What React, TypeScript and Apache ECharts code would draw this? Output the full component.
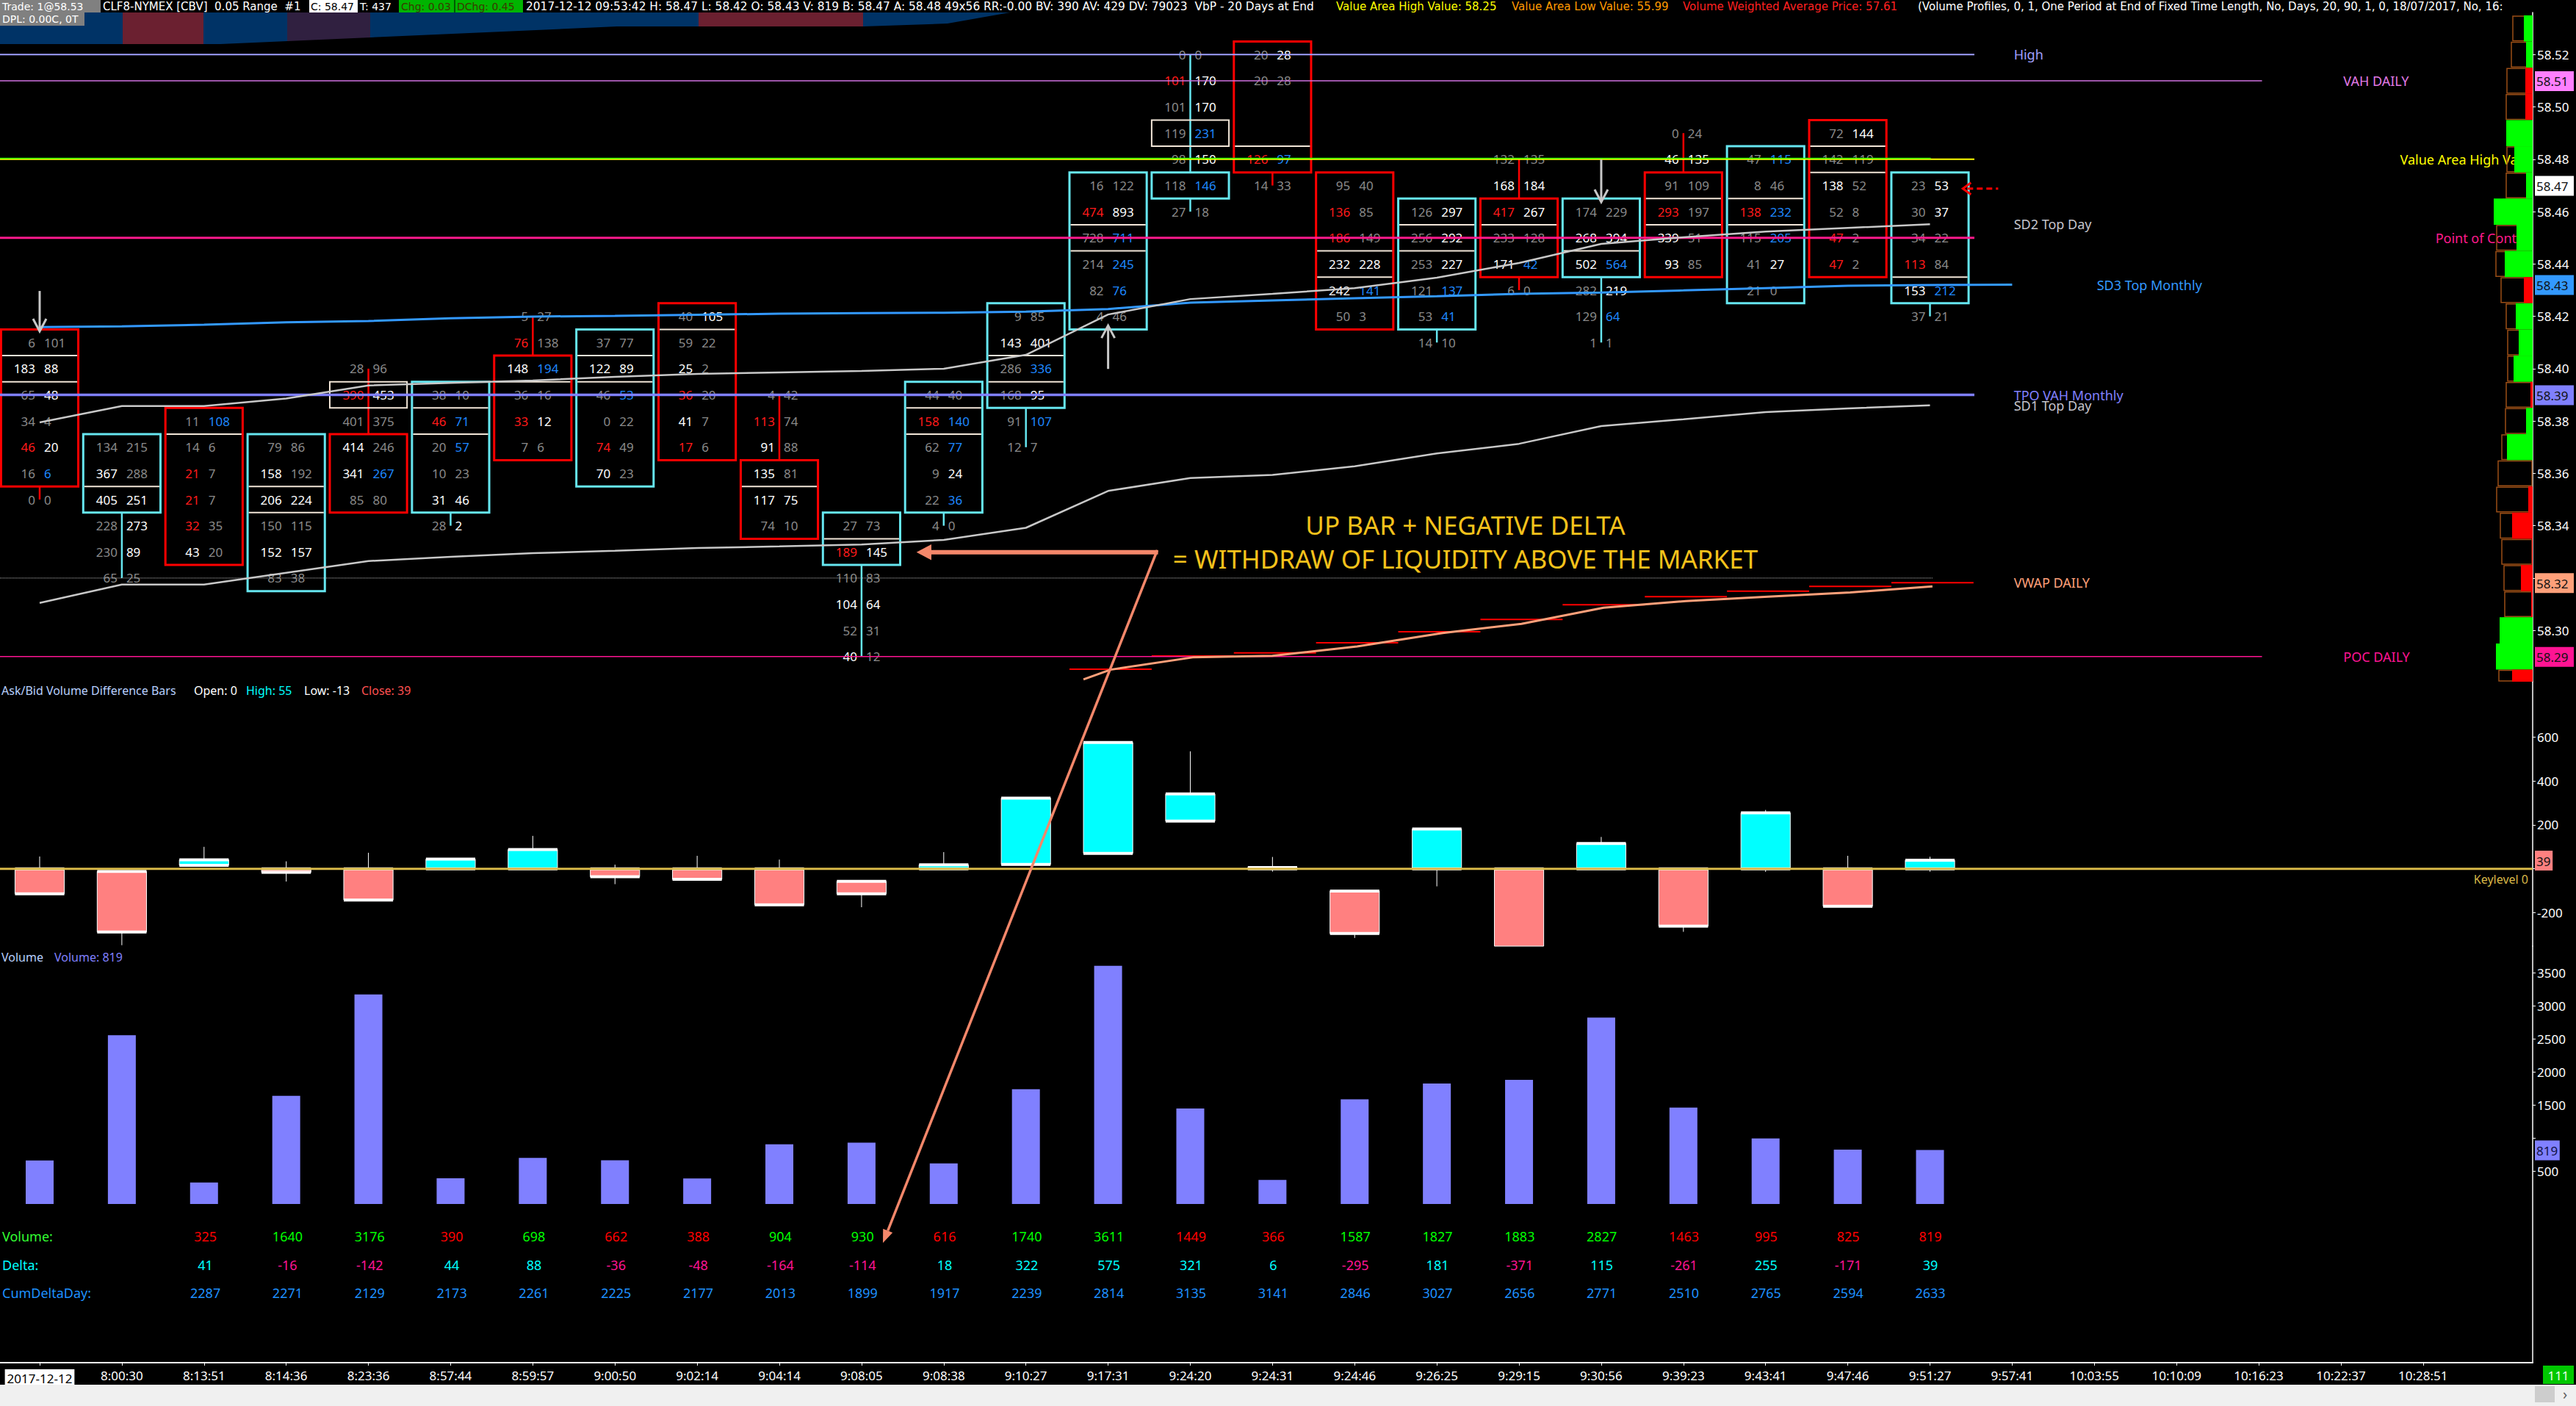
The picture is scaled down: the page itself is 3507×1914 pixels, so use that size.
import React, { useEffect, useRef } from "react";
import * as echarts from "echarts";

const FONT = '"Noto Sans", "Open Sans", "DejaVu Sans", sans-serif';
const HFONT = '"DejaVu Sans", "Noto Sans", sans-serif';

// ---------------- categories (bar time stamps) ----------------
const timeLabels = ["2017-12-12","8:00:30","8:13:51","8:14:36","8:23:36","8:57:44","8:59:57","9:00:50","9:02:14","9:04:14","9:08:05","9:08:38","9:10:27","9:17:31","9:24:20","9:24:31","9:24:46","9:26:25","9:29:15","9:30:56","9:39:23","9:43:41","9:47:46","9:51:27","9:57:41","10:03:55","10:10:09","10:16:23","10:22:37","10:28:51"];

// ---------------- footprint bars ----------------
const fpOpen = [58.41,58.35,58.38,58.32,58.37,58.35,58.40,58.36,58.42,58.36,58.33,58.35,58.39,58.42,58.47,58.52,58.47,58.42,58.46,58.44,58.47,58.43,58.49,58.43];
const fpClose = [58.36,58.37,58.33,58.37,58.35,58.39,58.37,58.41,58.37,58.34,58.34,58.39,58.42,58.47,58.47,58.48,58.42,58.46,58.44,58.46,58.44,58.48,58.44,58.47];
const fpHigh = [58.41,58.37,58.38,58.37,58.40,58.39,58.42,58.41,58.42,58.39,58.34,58.39,58.42,58.47,58.52,58.52,58.47,58.46,58.48,58.46,58.49,58.48,58.49,58.47];
const fpBid: (number | null)[][] = [
  [6,183,65,34,46,16,0],[134,367,405,228,230,65],[11,14,21,21,32,43],[79,158,206,150,152,83],
  [28,390,401,414,341,85],[38,46,20,10,31,28],[5,76,148,36,33,7],[37,122,46,0,74,70],
  [40,59,25,36,41,17],[4,113,91,135,117,74],[27,189,110,104,52,40],[44,158,62,9,22,4],
  [9,143,286,168,91,12],[16,474,728,214,82,4],[0,101,101,119,98,118,27],[20,20,null,null,126,14],
  [95,136,186,232,242,50],[126,256,253,121,53,14],[132,168,417,233,171,6],[174,268,502,282,129,1],
  [0,46,91,293,339,93],[47,8,138,115,41,21],[72,142,138,52,47,47],[23,30,34,113,153,37],
];
const fpAsk: (number | null)[][] = [
  [101,88,48,4,20,6,0],[215,288,251,273,89,25],[108,6,7,7,35,20],[86,192,224,115,157,38],
  [96,453,375,246,267,80],[10,71,57,23,46,2],[27,138,194,16,12,6],[77,89,53,22,49,23],
  [105,22,2,20,7,6],[42,74,88,81,75,10],[73,145,83,64,31,12],[40,140,77,24,36,0],
  [85,401,336,95,107,7],[122,893,711,245,76,46],[0,170,170,231,150,146,18],[28,28,null,null,97,33],
  [40,85,149,228,141,3],[297,292,227,137,41,10],[135,184,267,128,42,0],[229,394,564,219,64,1],
  [24,135,109,197,51,85],[115,46,232,205,27,0],[144,119,52,8,2,2],[53,37,22,84,212,21],
];
// imbalance / volume flags per cell: g normal, w high volume, r bid imbalance, b ask imbalance
const fpFlags = [
  ["gg","ww","gw","gg","rw","gb","gg"],["gg","wg","ww","gw","gw","gg"],["gb","gg","rg","rg","rg","wg"],["gg","wg","ww","gg","ww","gg"],
  ["gg","rw","gg","wg","wb","gg"],["gg","rb","gb","gg","ww","gw"],["gg","rg","wb","gg","rw","gg"],["gg","ww","gb","gg","rg","wg"],
  ["gw","gg","wg","rg","wg","rg"],["gg","rg","wg","wg","ww","gg"],["gg","rw","gg","ww","gg","wg"],["gg","rb","gb","gw","gb","gg"],
  ["gg","ww","gb","gw","gb","gg"],["gg","rw","gb","gb","gb","gg"],["gg","rw","gw","gb","gw","gb","gg"],["gw","gg","","","rb","gg"],
  ["gg","rg","rg","ww","wb","gg"],["gw","gw","gw","gb","gb","gg"],["gg","ww","rw","gg","wb","gg"],["gg","ww","wb","gw","gb","gg"],
  ["gg","ww","gg","rg","wg","wg"],["gb","gg","rb","gb","gw","gg"],["gw","gg","wg","gg","rg","rg"],["gw","gw","gg","rg","wb","gg"],
];

// ---------------- study lines ----------------
const sd2TopDay = [58.3795,58.3857,58.3857,58.3886,58.3936,58.3946,58.3955,58.3969,58.398,58.3986,58.3991,58.4,58.4053,58.4207,58.4266,58.4286,58.4308,58.4348,58.4404,58.4477,58.4502,58.4524,58.4538,58.4552];
const sd1TopDay = [58.3105,58.3175,58.3175,58.322,58.3265,58.3281,58.3295,58.3304,58.3315,58.3321,58.3328,58.3346,58.3392,58.3533,58.3582,58.3594,58.3627,58.3676,58.3713,58.3781,58.3807,58.3834,58.3848,58.386];
const sd3TopMonthly = [58.4159,58.4162,58.4168,58.4177,58.4182,58.4193,58.4199,58.4202,58.4206,58.421,58.4212,58.4214,58.4218,58.4228,58.4252,58.4261,58.4269,58.4277,58.4286,58.4291,58.4299,58.4308,58.4317,58.432,58.4321];
const vwapCurveX = [12.7,13.03,14.03,15,16.03,17.07,18.03,19.03,20.03,21.03,22.03,23.03];
const vwapCurveY = [58.2813,58.285,58.2897,58.2903,58.2939,58.299,58.3025,58.3087,58.3112,58.3129,58.3145,58.3168];
const vwapStepIdx = [13,14,15,16,17,18,19,20,21,22,23];
const vwapStepVal = [58.2852,58.2902,58.2914,58.2953,58.2995,58.3042,58.3098,58.3129,58.315,58.3168,58.3182];

const levelHigh = 58.52;
const levelVahDaily = 58.51;
const levelValueAreaHigh = 58.48;
const levelPointOfControl = 58.45;
const levelTpoVahMonthly = 58.39;
const levelPocDaily = 58.29;
const levelDotted = 58.32;
const lastPrice = 58.47;
const endNear = 23.54;
const endFar = 27.04;
const endCurve = 23.03;

const refLabelText = ["High","SD2 Top Day","SD3 Top Monthly","TPO VAH Monthly","SD1 Top Day","VWAP DAILY","VAH DAILY","POC DAILY","Value Area High Val","Point of Contr"];
const refLabelAt = [24.02,24.02,25.03,24.02,24.02,24.02,28.03,28.03,28.72,29.15];
const refLabelLevel = [58.52,58.4552,58.4321,58.39,58.386,58.3182,58.51,58.29,58.48,58.45];

const arrowIdx = [0,13,19];
const arrowFrom = [58.4297,58.3999,58.4799];
const arrowTo = [58.4143,58.4165,58.4637];

// ---------------- volume profile (right) ----------------
const profilePrice = [58.53,58.52,58.51,58.50,58.49,58.48,58.47,58.46,58.45,58.44,58.43,58.42,58.41,58.40,58.39,58.38,58.37,58.36,58.35,58.34,58.33,58.32,58.31,58.30,58.29,58.28];
const profileTotal = [27,29,35,36,30,35,36,40,49,50,43,36,34,34,36,37,42,47,49,44,42,39,38,40,46,46];
const profileDelta = [12,9,-10,-10,36,25,9,53,22,38,-12,23,19,26,-3,9,35,0,-6,-28,-1,-16,-2,45,50,-28];

const priceTagLevel = [58.51,58.47,58.4321,58.39,58.3182,58.29];
const priceTicks = [58.30,58.32,58.34,58.36,58.38,58.40,58.42,58.44,58.46,58.48,58.50,58.52];
const priceLabels = [58.30,58.34,58.36,58.38,58.40,58.42,58.44,58.46,58.48,58.50,58.52];

// ---------------- ask/bid volume difference bars ----------------
const deltaOpen  = [0,-12,16,0,0,0,0,0,0,0,-57,0,20,70,217,0,-101,0,0,0,0,0,0,0];
const deltaClose = [-114,-288,41,-16,-142,44,88,-36,-48,-164,-114,18,322,575,341,6,-295,181,-371,115,-261,255,-171,39];
const deltaHigh  = [56,-12,100,34,73,46,150,19,59,42,-57,76,322,575,535,54,-101,181,0,145,0,268,59,55];
const deltaLow   = [-114,-348,16,-58,-142,0,0,-70,-48,-164,-175,0,20,70,217,-13,-315,-80,-371,0,-287,-14,-171,-13];
const deltaTicks = [-200,0,200,400,600];
const deltaLabels = [-200,200,400,600];

// ---------------- volume ----------------
const volumes = [660,2560,325,1640,3176,390,698,662,388,904,930,616,1740,3611,1449,366,1587,1827,1883,2827,1463,995,825,819];
const volumeTicks = [500,1000,1500,2000,2500,3000,3500];
const volumeLabels = [500,1500,2000,2500,3000,3500];

// ---------------- data rows ----------------
const rowNames = ["Volume:","Delta:","CumDeltaDay:"];
const rowStart = 2;
const rowDelta = [41,-16,-142,44,88,-36,-48,-164,-114,18,322,575,321,6,-295,181,-371,115,-261,255,-171,39];
const rowCumDelta = [2287,2271,2129,2173,2261,2225,2177,2013,1899,1917,2239,2814,3135,3141,2846,3027,2656,2771,2510,2765,2594,2633];

// ---------------- layout constants ----------------
const X_MIN = -0.4826, X_MAX = 30.333;
const P_MIN = 58.2804, P_MAX = 58.5361;
const D_MIN = -352.3, D_MAX = 852.1;
const V_MIN = -2405, V_MAX = 3909;

const CYAN = "#66e6f0";
const RED = "#ff0000";
const NUM_COL: Record<string, string> = { g: "#8a8a8a", w: "#ffffff", r: "#ff1a1a", b: "#1e88ff" };

function renderFootprint(params: any, api: any) {
  const i = api.value(0);
  const open = api.value(1), close = api.value(2), high = api.value(3);
  const bids = fpBid[i], asks = fpAsk[i], flags = fpFlags[i];
  const n = bids.length;
  const up = close >= open;
  const col = up ? CYAN : RED;
  const cx = api.coord([i, high])[0];
  const rowH = api.size([0, 0.01])[1];
  const bw = api.size([1, 0])[0] * 0.94;
  const yOf = (p: number) => api.coord([i, p])[1];
  const bTop = Math.max(open, close), bBot = Math.min(open, close);
  const yBT = yOf(bTop) - rowH / 2, yBB = yOf(bBot) + rowH / 2;
  const low = high - (n - 1) * 0.01;
  const yH = yOf(high), yL = yOf(low);
  const ch: any[] = [];
  if (yH < yBT - 1) ch.push({ type: "line", shape: { x1: cx, y1: yH, x2: cx, y2: yBT }, style: { stroke: col, lineWidth: 2.5 } });
  if (yL > yBB + 1) ch.push({ type: "line", shape: { x1: cx, y1: yBB, x2: cx, y2: yL }, style: { stroke: col, lineWidth: 2.5 } });
  ch.push({ type: "rect", shape: { x: cx - bw / 2, y: yBT, width: bw, height: yBB - yBT }, style: { fill: "none", stroke: col, lineWidth: 3 } });
  let k = 0, best = -1;
  for (let j = 0; j < n; j++) {
    const b = bids[j], a = asks[j];
    if (b == null || a == null) continue;
    if (b + a > best) { best = b + a; k = j; }
  }
  const pk = high - k * 0.01;
  const yk = yOf(pk);
  const inside = pk <= bTop + 1e-6 && pk >= bBot - 1e-6;
  const DIV = "#f2e6d8";
  if (inside) {
    const t = yk - rowH / 2, b = yk + rowH / 2;
    if (t > yBT + 3) ch.push({ type: "line", shape: { x1: cx - bw / 2 + 1.5, y1: t, x2: cx + bw / 2 - 1.5, y2: t }, style: { stroke: DIV, lineWidth: 2 } });
    if (b < yBB - 3) ch.push({ type: "line", shape: { x1: cx - bw / 2 + 1.5, y1: b, x2: cx + bw / 2 - 1.5, y2: b }, style: { stroke: DIV, lineWidth: 2 } });
  } else {
    ch.push({ type: "rect", shape: { x: cx - bw / 2, y: yk - rowH / 2, width: bw, height: rowH }, style: { fill: "none", stroke: DIV, lineWidth: 2 } });
  }
  for (let j = 0; j < n; j++) {
    const b = bids[j], a = asks[j];
    if (b == null || a == null) continue;
    const y = yOf(high - j * 0.01);
    const f = flags[j] || "gg";
    ch.push({ type: "text", x: cx - 6, y, style: { text: String(b), fill: NUM_COL[f[0]], fontSize: 17, fontFamily: FONT, align: "right", verticalAlign: "middle" } });
    ch.push({ type: "text", x: cx + 6, y, style: { text: String(a), fill: NUM_COL[f[1]], fontSize: 17, fontFamily: FONT, align: "left", verticalAlign: "middle" } });
  }
  return { type: "group", children: ch };
}

function renderDelta(params: any, api: any) {
  const i = api.value(0);
  const o = api.value(1), c = api.value(2), h = api.value(3), l = api.value(4);
  const cs = params.coordSys;
  const top = cs.y, bot = cs.y + cs.height;
  const clamp = (y: number) => Math.max(top, Math.min(bot, y));
  const cx = api.coord([i, 0])[0];
  const w = api.size([1, 0])[0] * 0.6;
  const yO = api.coord([i, o])[1], yC = api.coord([i, c])[1];
  const yH = clamp(api.coord([i, h])[1]), yL = clamp(api.coord([i, l])[1]);
  const y1 = clamp(Math.min(yO, yC)), y2 = clamp(Math.max(yO, yC));
  const ch: any[] = [];
  ch.push({ type: "line", shape: { x1: cx, y1: yH, x2: cx, y2: yL }, style: { stroke: "#ffffff", lineWidth: 1 } });
  ch.push({ type: "rect", shape: { x: cx - w / 2, y: y1, width: w, height: Math.max(1, y2 - y1) }, style: { fill: c >= o ? "#00ffff" : "#ff8080", stroke: "#ffffff", lineWidth: 1 } });
  [yO, yC].forEach((y) => {
    if (y > top && y < bot) ch.push({ type: "rect", shape: { x: cx - w / 2, y: y - 2, width: w, height: 4 }, style: { fill: "#ffffff" } });
  });
  return { type: "group", children: ch };
}

function renderProfile(params: any, api: any) {
  const tot = api.value(0), p = api.value(1), del = api.value(2);
  const cs = params.coordSys;
  const yT = Math.max(cs.y, api.coord([0, p + 0.005])[1]);
  const yB = Math.min(cs.y + cs.height, api.coord([0, p - 0.005])[1]);
  const xR = api.coord([0, p])[0];
  const xT = api.coord([tot, p])[0];
  const xD = api.coord([Math.abs(del), p])[0];
  const ch: any[] = [];
  ch.push({ type: "rect", shape: { x: xT, y: yT + 1, width: xR - xT - 1, height: yB - yT - 2 }, style: { fill: "none", stroke: "#9a4e16", lineWidth: 1.5 } });
  if (del !== 0) ch.push({ type: "rect", shape: { x: xD, y: yT, width: xR - xD, height: yB - yT }, style: { fill: del > 0 ? "#00ff00" : "#ff0000" } });
  return { type: "group", children: ch };
}

function makeTagRenderer(texts: string[], colors: string[], textColor: string) {
  return (params: any, api: any) => {
    const v = api.value(1);
    const y = api.coord([0, v])[1];
    const cs = params.coordSys;
    const x0 = cs.x + cs.width + 3;
    const txt = texts[params.dataIndex];
    const w = txt.length * 9.6 + 5;
    return {
      type: "group",
      children: [
        { type: "rect", shape: { x: x0, y: y - 13, width: w, height: 27 }, style: { fill: colors[params.dataIndex] } },
        { type: "text", x: x0 + 2, y: y + 1, style: { text: txt, fill: textColor, fontSize: 17, fontFamily: FONT, align: "left", verticalAlign: "middle" } },
      ],
    };
  };
}

function hline(level: number, end: number, color: string, width: number, type: string = "solid", z = 4) {
  return {
    type: "line", xAxisIndex: 0, yAxisIndex: 0, silent: true, symbol: "none", z,
    data: [[X_MIN, level], [end, level]],
    lineStyle: { color, width, type },
  };
}

function buildOption() {
  const fpData = fpOpen.map((o, i) => [i, o, fpClose[i], fpHigh[i]]);
  const deltaData = deltaOpen.map((o, i) => [i, o, deltaClose[i], deltaHigh[i], deltaLow[i]]);
  const refColors = ["#a0a0ff", "#c4c4cc", "#3399ff", "#8080ff", "#c4c4cc", "#ffa07a", "#e07ae6", "#ff1493", "#ffff00", "#ff1a8c"];
  const tagColors = ["#ff80ff", "#ffffff", "#3399ff", "#8080ff", "#ffa07a", "#ff1493"];

  const rowItems: { i: number; r: number; t: string; c: string }[] = [];
  for (let j = rowStart; j < volumes.length; j++) {
    rowItems.push({ i: j, r: 0, t: String(volumes[j]), c: volumes[j] > volumes[j - 1] ? "#00ff00" : "#ff0000" });
    const d = rowDelta[j - rowStart];
    rowItems.push({ i: j, r: 1, t: String(d), c: d >= 0 ? "#00ffff" : "#ff1493" });
    rowItems.push({ i: j, r: 2, t: String(rowCumDelta[j - rowStart]), c: "#1e90ff" });
  }

  const idxTicks = timeLabels.map((_, i) => i);
  const xBase = (g: number) => ({ type: "value", gridIndex: g, min: X_MIN, max: X_MAX, show: false, axisLine: { onZero: false } });

  // decorative header band
  const bandBottom = (x: number) =>
    x <= 300 ? 60 : x <= 840 ? 60 - ((x - 300) * 24) / 540 : x <= 1175 ? 36 : x <= 1290 ? 36 - ((x - 1175) * 4) / 115 : Math.max(17, 32 - ((x - 1290) * 15) / 85);
  const bandPoly = (x0: number, x1: number) => {
    const pts: number[][] = [[x0, 17], [x1, 17]];
    const bps = [300, 840, 1175, 1290].filter((b) => b > x0 && b < x1).reverse();
    [x1, ...bps, x0].forEach((x) => pts.push([x, bandBottom(x)]));
    return pts;
  };
  const bands: [number, number, string][] = [[0,167,"#003366"],[167,277,"#6b2030"],[277,391,"#003366"],[391,504,"#302040"],[504,951,"#003366"],[951,1175,"#6b2030"],[1175,1375,"#003366"]];

  const txt = (text: string, x: number, y: number, fill: string, size = 16, align = "left", z = 50, family = FONT) => ({
    type: "text", x, y, z, silent: true,
    style: { text, fill, fontSize: size, lineHeight: Math.ceil(size) + 1, fontFamily: family, align, verticalAlign: "middle" },
  });
  const htxt = (text: string, x: number, fill: string, size = 15) => txt(text, x, 9, fill, size, "left", 50, HFONT);
  const box = (x: number, y: number, w: number, h: number, fill: string, z = 49) => ({ type: "rect", z, silent: true, shape: { x, y, width: w, height: h }, style: { fill } });

  const graphic: any[] = [
    ...bands.map(([a, b, c]) => ({ type: "polygon", z: 1, silent: true, shape: { points: bandPoly(a, b) }, style: { fill: c } })),
    box(0, 0, 137, 17, "#808080"),
    htxt("Trade: 1@58.53", 3, "#ffffff", 14),
    htxt("CLF8-NYMEX [CBV]  0.05 Range  #1", 140, "#ffffff"),
    box(421, 0, 66, 17, "#ffffff"),
    htxt("C: 58.47", 423, "#000000", 14),
    htxt("T: 437", 490, "#ffffff", 14),
    box(543, 0, 169, 17, "#00b400"),
    { type: "line", z: 50, silent: true, shape: { x1: 619, y1: 0, x2: 619, y2: 17 }, style: { stroke: "#000", lineWidth: 1 } },
    htxt("Chg: 0.03", 546, "#3a3a00", 14),
    htxt("DChg: 0.45", 622, "#3a3a00", 14),
    {
      type: "text", x: 716, y: 9, z: 50, silent: true,
      style: { text: "2017-12-12 09:53:42 H: 58.47 L: 58.42 O: 58.43 V: 819 B: 58.47 A: 58.48 49x56 RR:-0.00 BV: 390 AV: 429 DV: 79023  VbP - 20 Days at End", fill: "#ffffff", fontSize: 15.4, lineHeight: 17, fontFamily: HFONT, verticalAlign: "middle", width: 1098, overflow: "truncate", ellipsis: "" },
    },
    htxt("Value Area High Value: 58.25", 1819, "#ffff00"),
    htxt("Value Area Low Value: 55.99", 2058, "#ff9900"),
    htxt("Volume Weighted Average Price: 57.61", 2291, "#ff2020"),
    { type: "text", x: 2611, y: 9, z: 50, silent: true, style: { text: "(Volume Profiles, 0, 1, One Period at End of Fixed Time Length, No, Days, 20, 90, 1, 0, 18/07/2017, No, 16:", fill: "#ffffff", fontSize: 15, lineHeight: 16, fontFamily: HFONT, verticalAlign: "middle", width: 835, overflow: "truncate", ellipsis: "" } },
    box(0, 17, 115, 18, "#808080"),
    txt("DPL: 0.00C, 0T", 3, 26, "#ffffff", 14, "left", 50, HFONT),
    // panel titles
    txt("Ask/Bid Volume Difference Bars", 2, 940, "#b8d0ff"),
    txt("Open: 0", 264, 940, "#ffffff"),
    txt("High: 55", 335, 940, "#00ffff"),
    txt("Low: -13", 414, 940, "#ffffff"),
    txt("Close: 39", 492, 940, "#ff5050"),
    txt("Keylevel 0", 3442, 1197, "#d8b848", 16, "right"),
    txt("Volume", 2, 1303, "#b8d0ff"),
    txt("Volume: 819", 74, 1303, "#8080ff"),
    // annotation
    txt("UP BAR + NEGATIVE DELTA", 1995, 714, "#f5c21b", 35, "center", 60),
    txt("= WITHDRAW OF LIQUIDITY ABOVE THE MARKET", 1995, 760, "#f5c21b", 35, "center", 60),
    { type: "polyline", z: 60, silent: true, shape: { points: [[1262, 751.7], [1576.6, 751.7]] }, style: { stroke: "#f4876a", lineWidth: 6, fill: "none" } },
    { type: "polyline", z: 60, silent: true, shape: { points: [[1575.5, 749], [1208.7, 1675.3]] }, style: { stroke: "#f4876a", lineWidth: 3.5, fill: "none" } },
    { type: "polygon", z: 60, silent: true, shape: { points: [[1247.7, 751.7], [1268, 741], [1268, 762.4]] }, style: { fill: "#f4876a" } },
    { type: "polygon", z: 60, silent: true, shape: { points: [[1202, 1692], [1215.2, 1677.9], [1202.2, 1672.7]] }, style: { fill: "#f4876a" } },
    // bottom chrome
    box(0, 1885, 3507, 29, "#f0f0f0", 70),
    box(3451, 1887, 27, 22, "#cdcdcd", 71),
    txt("\u203A", 3492, 1897, "#606060", 20, "center", 71),
    box(3462, 1859, 42, 25, "#00c800", 71),
    txt("111", 3483, 1872, "#e8ffe8", 17, "center", 72),
  ];

  const series: any[] = [
    // footprint
    { type: "custom", xAxisIndex: 0, yAxisIndex: 0, z: 2, silent: true, data: fpData, renderItem: renderFootprint },
    // horizontal references
    hline(levelHigh, endNear, "#a0a0ff", 2),
    hline(levelVahDaily, endFar, "#d070e0", 1.5),
    hline(levelValueAreaHigh, endNear, "#ffff00", 2),
    hline(levelValueAreaHigh + 0.0004, 23.01, "#33ff00", 1.5),
    hline(levelPointOfControl, endNear, "#ff1a8c", 3),
    hline(levelTpoVahMonthly, endNear, "#8080ff", 3.5),
    hline(levelPocDaily, endFar, "#ff1493", 1.5),
    hline(levelDotted, endCurve, "#c0c0c0", 1, "dotted"),
    // curves
    { type: "line", xAxisIndex: 0, yAxisIndex: 0, silent: true, symbol: "none", z: 4, data: sd3TopMonthly.map((v, i) => [i, v]), lineStyle: { color: "#3399ff", width: 3 } },
    { type: "line", xAxisIndex: 0, yAxisIndex: 0, silent: true, symbol: "none", z: 4, data: sd2TopDay.map((v, i) => [i, v]), lineStyle: { color: "#c8c8c8", width: 2.5 } },
    { type: "line", xAxisIndex: 0, yAxisIndex: 0, silent: true, symbol: "none", z: 4, data: sd1TopDay.map((v, i) => [i, v]), lineStyle: { color: "#c8c8c8", width: 2.5 } },
    { type: "line", xAxisIndex: 0, yAxisIndex: 0, silent: true, symbol: "none", z: 4, data: vwapCurveX.map((x, i) => [x, vwapCurveY[i]]), lineStyle: { color: "#ffa07a", width: 3 } },
    {
      type: "custom", xAxisIndex: 0, yAxisIndex: 0, z: 4, silent: true,
      data: vwapStepIdx.map((x, i) => [x, vwapStepVal[i]]),
      renderItem: (params: any, api: any) => {
        const x = api.value(0), v = api.value(1);
        const a = api.coord([x - 0.47, v]), b = api.coord([Math.min(x + 0.53, endNear), v]);
        return { type: "line", shape: { x1: a[0], y1: a[1], x2: b[0], y2: b[1] }, style: { stroke: "#ff0000", lineWidth: 2 } };
      },
    },
    // labels of references
    {
      type: "custom", xAxisIndex: 0, yAxisIndex: 0, z: 5, silent: true,
      data: refLabelAt.map((x, i) => [x, refLabelLevel[i]]),
      renderItem: (params: any, api: any) => {
        const [x, y] = api.coord([api.value(0), api.value(1)]);
        return { type: "text", x, y, style: { text: refLabelText[params.dataIndex], fill: refColors[params.dataIndex], fontSize: 18, fontFamily: FONT, align: "left", verticalAlign: "middle" } };
      },
    },
    // gray arrows
    {
      type: "custom", xAxisIndex: 0, yAxisIndex: 0, z: 6, silent: true,
      data: arrowIdx.map((x, i) => [x, arrowFrom[i], arrowTo[i]]),
      renderItem: (params: any, api: any) => {
        const [x, y1] = api.coord([api.value(0), api.value(1)]);
        const y2 = api.coord([api.value(0), api.value(2)])[1];
        const d = y2 > y1 ? 1 : -1;
        return {
          type: "group",
          children: [
            { type: "line", shape: { x1: x, y1, x2: x, y2 }, style: { stroke: "#c8c8c8", lineWidth: 3 } },
            { type: "polyline", shape: { points: [[x - 9, y2 - d * 17], [x, y2], [x + 9, y2 - d * 17]] }, style: { stroke: "#c8c8c8", lineWidth: 3, fill: "none" } },
          ],
        };
      },
    },
    // red dashed arrow at last price
    {
      type: "custom", xAxisIndex: 0, yAxisIndex: 0, z: 6, silent: true,
      data: [[23.4, lastPrice - 0.0012]],
      renderItem: (params: any, api: any) => {
        const [x, y] = api.coord([api.value(0), api.value(1)]);
        const x2 = api.coord([23.83, api.value(1)])[0];
        return {
          type: "group",
          children: [
            { type: "line", shape: { x1: x + 6, y1: y, x2, y2: y }, style: { stroke: "#ff0000", lineWidth: 3, lineDash: [8, 5] } },
            { type: "polyline", shape: { points: [[x + 11, y - 8], [x, y], [x + 11, y + 8]] }, style: { stroke: "#ff0000", lineWidth: 3, fill: "none" } },
          ],
        };
      },
    },
    // volume profile
    { type: "custom", xAxisIndex: 4, yAxisIndex: 4, z: 7, silent: true, data: profilePrice.map((p, i) => [profileTotal[i], p, profileDelta[i]]), renderItem: renderProfile },
    // price tags
    { type: "custom", xAxisIndex: 0, yAxisIndex: 0, z: 10, silent: true, data: priceTagLevel.map((v) => [0, v]), renderItem: makeTagRenderer(priceTagLevel.map((v) => v.toFixed(2)), tagColors, "#111111") },
    // delta bars
    { type: "custom", xAxisIndex: 1, yAxisIndex: 1, z: 3, silent: true, data: deltaData, renderItem: renderDelta },
    { type: "line", xAxisIndex: 1, yAxisIndex: 1, z: 5, silent: true, symbol: "none", data: [[X_MIN, 0], [X_MAX, 0]], lineStyle: { color: "#d8b848", width: 3 } },
    { type: "custom", xAxisIndex: 1, yAxisIndex: 1, z: 10, silent: true, data: [[0, deltaClose[deltaClose.length - 1]]], renderItem: makeTagRenderer([String(deltaClose[deltaClose.length - 1])], ["#ff8080"], "#111111") },
    // volume bars
    { type: "bar", xAxisIndex: 2, yAxisIndex: 2, silent: true, barWidth: 38, data: volumes.map((v, i) => [i, v]), itemStyle: { color: "#8080ff" } },
    { type: "custom", xAxisIndex: 2, yAxisIndex: 2, z: 10, silent: true, data: [[0, volumes[volumes.length - 1]]], renderItem: makeTagRenderer([String(volumes[volumes.length - 1])], ["#8080ff"], "#111144") },
    // data rows
    {
      type: "custom", xAxisIndex: 3, yAxisIndex: 3, z: 5, silent: true,
      data: rowItems.map((d) => [d.i, d.r]),
      renderItem: (params: any, api: any) => {
        const d = rowItems[params.dataIndex];
        const [x, y] = api.coord([api.value(0), api.value(1)]);
        return { type: "text", x, y, style: { text: d.t, fill: d.c, fontSize: 18, fontFamily: FONT, align: "center", verticalAlign: "middle" } };
      },
    },
  ];

  const axisTxt = { color: "#ffffff", fontSize: 17, fontFamily: FONT };
  const plain = (v: number) => String(v);

  return {
    animation: false,
    backgroundColor: "#000000",
    textStyle: { fontFamily: FONT },
    grid: [
      { left: 0, right: 59, top: 17, height: 911 },
      { left: 0, right: 59, top: 928, height: 360 },
      { left: 0, right: 59, top: 1288, height: 567 },
      { left: 0, right: 59, top: 1664, height: 115 },
      { left: 3340, right: 59, top: 17, height: 911 },
    ],
    xAxis: [
      xBase(0),
      xBase(1),
      {
        type: "value", gridIndex: 2, min: X_MIN, max: X_MAX, position: "bottom",
        axisLine: { show: true, onZero: false, lineStyle: { color: "#ffffff", width: 2 } },
        axisTick: { show: true, customValues: idxTicks, length: 4, lineStyle: { color: "#ffffff" } },
        axisLabel: {
          customValues: idxTicks, margin: 9, ...axisTxt,
          formatter: (v: number) => {
            const i = Math.round(v);
            return i === 0 ? `{d|${timeLabels[0]}}` : timeLabels[i];
          },
          rich: { d: { backgroundColor: "#ffffff", color: "#000000", fontSize: 17, fontFamily: FONT, padding: [4, 3, 3, 3] } },
        },
        splitLine: { show: false },
      },
      xBase(3),
      { type: "value", gridIndex: 4, min: 0, max: 108, inverse: true, show: false, axisLine: { onZero: false } },
    ],
    yAxis: [
      {
        type: "value", gridIndex: 0, position: "right", min: P_MIN, max: P_MAX,
        axisLine: { show: true, onZero: false, lineStyle: { color: "#ffffff", width: 1.5 } },
        axisTick: { show: true, customValues: priceTicks, length: 4, lineStyle: { color: "#ffffff" } },
        axisLabel: { customValues: priceLabels, formatter: (v: number) => v.toFixed(2), margin: 6, ...axisTxt },
        splitLine: { show: false },
      },
      {
        type: "value", gridIndex: 1, position: "right", min: D_MIN, max: D_MAX,
        axisLine: { show: true, onZero: false, lineStyle: { color: "#ffffff", width: 1.5 } },
        axisTick: { show: true, customValues: deltaTicks, length: 4, lineStyle: { color: "#ffffff" } },
        axisLabel: { customValues: deltaLabels, formatter: plain, margin: 6, ...axisTxt },
        splitLine: { show: false },
      },
      {
        type: "value", gridIndex: 2, position: "right", min: V_MIN, max: V_MAX,
        axisLine: { show: true, onZero: false, lineStyle: { color: "#ffffff", width: 1.5 } },
        axisTick: { show: true, customValues: volumeTicks, length: 4, lineStyle: { color: "#ffffff" } },
        axisLabel: { customValues: volumeLabels, formatter: plain, margin: 6, ...axisTxt },
        splitLine: { show: false },
      },
      {
        type: "category", gridIndex: 3, data: rowNames, inverse: true, position: "left",
        axisLine: { show: false, onZero: false }, axisTick: { show: false }, splitLine: { show: false },
        axisLabel: {
          inside: true, margin: 1,
          formatter: (v: string) => `{${["a", "b", "c"][rowNames.indexOf(v)]}|${v}}`,
          rich: {
            a: { color: "#33ff33", fontSize: 18, fontFamily: FONT },
            b: { color: "#00ffff", fontSize: 18, fontFamily: FONT },
            c: { color: "#1e90ff", fontSize: 18, fontFamily: FONT },
          },
        },
      },
      { type: "value", gridIndex: 4, min: P_MIN, max: P_MAX, show: false, axisLine: { onZero: false } },
    ],
    series,
    graphic,
  };
}

export default function App() {
  const ref = useRef<HTMLDivElement>(null);
  useEffect(() => {
    const chart = echarts.init(ref.current as HTMLDivElement, null, { renderer: "svg" });
    chart.setOption(buildOption() as any);
    return () => chart.dispose();
  }, []);
  return (
    <div
      ref={ref}
      style={{ position: "fixed", left: 0, top: 0, width: 3507, height: 1914, background: "#000" }}
    />
  );
}
